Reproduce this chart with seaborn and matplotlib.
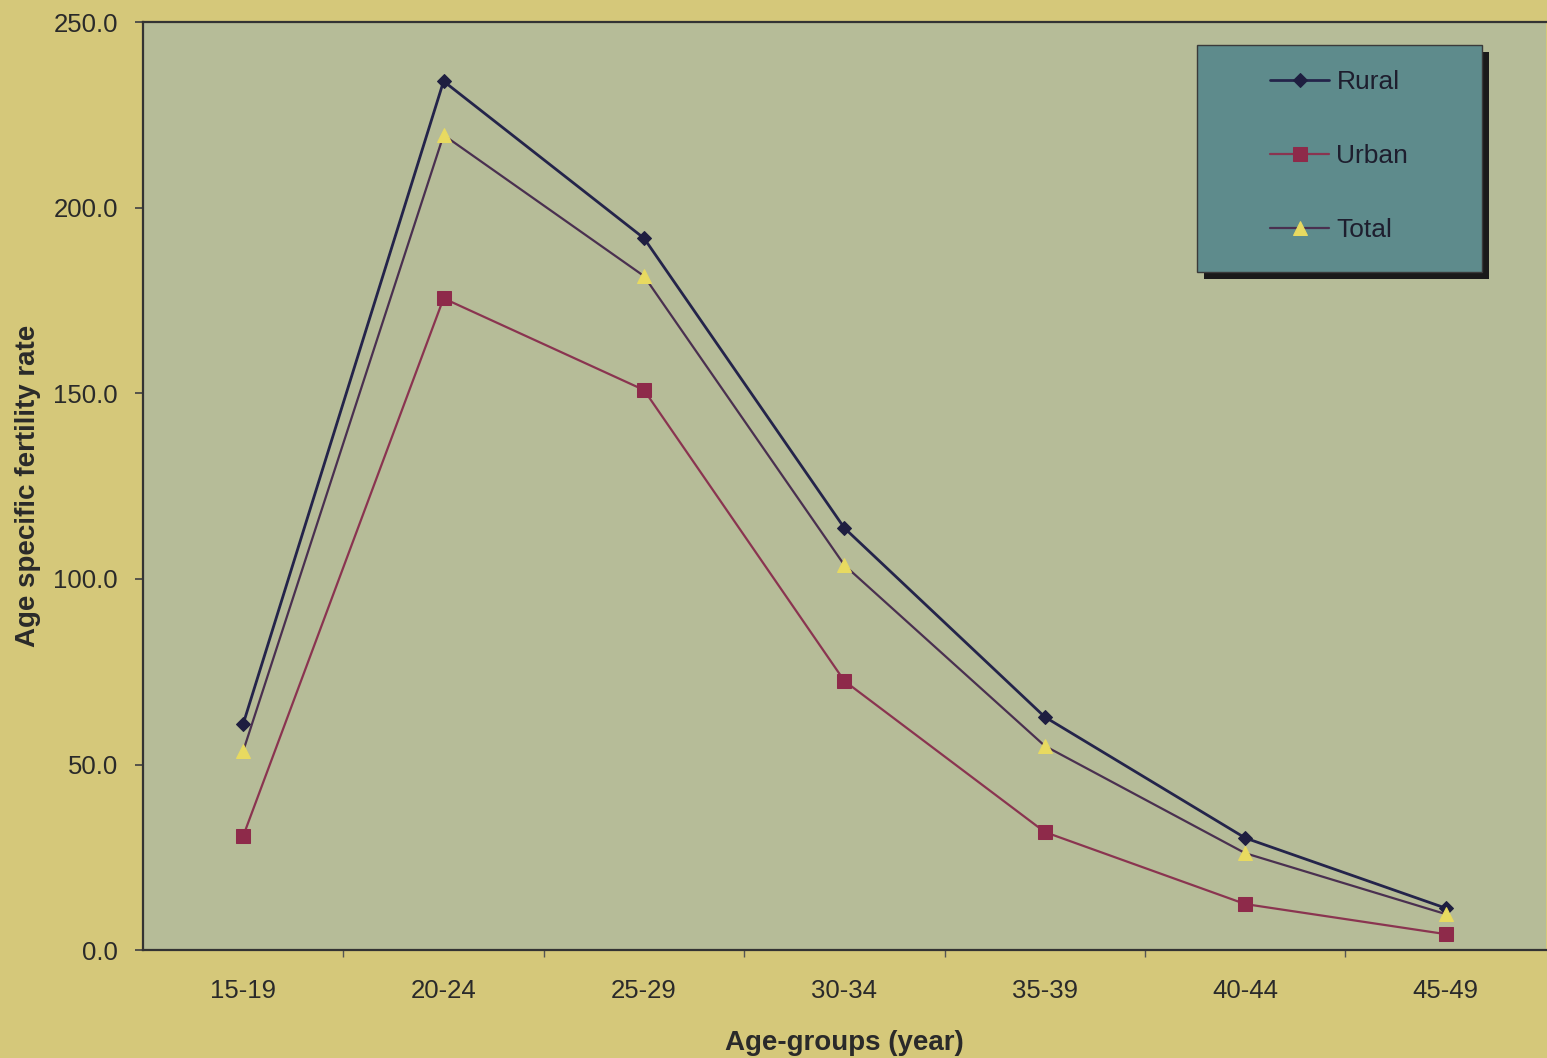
import matplotlib
matplotlib.use("Agg")
import matplotlib.pyplot as plt
from matplotlib.patches import Rectangle
import seaborn as sns
import pandas as pd
import numpy as np

age_groups = ["15-19", "20-24", "25-29", "30-34", "35-39", "40-44", "45-49"]
rural = [60.9, 234.1, 191.8, 113.7, 62.8, 30.2, 11.3]
urban = [30.7, 175.6, 150.9, 72.5, 31.8, 12.4, 4.3]
total = [53.6, 219.6, 181.6, 103.7, 55.0, 26.1, 9.7]
y_ticks = [0, 50, 100, 150, 200, 250]

sns.set_theme(style="white")
plt.rcParams['font.family'] = ['Liberation Sans', 'DejaVu Sans']

fig = plt.figure(figsize=(15.47, 10.58), dpi=100)
fig.patch.set_facecolor("#D5C87A")
ax = fig.add_axes([0.0924, 0.102, 0.9069, 0.877])
ax.set_facecolor("#B6BC98")

series = [
    ("Rural", rural, "#24244A", "D", "#1E1E40", "#1E1E40", 7, 2.0),
    ("Urban", urban, "#8A3450", "s", "#8E2A4A", "#8E2A4A", 10, 1.6),
    ("Total", total, "#4A3050", "^", "#E8DA60", "#E8DA60", 10, 1.6),
]
for name, vals, lc, mk, mfc, mec, ms, lw in series:
    df = pd.DataFrame({"age": age_groups, "value": vals})
    sns.lineplot(data=df, x="age", y="value", ax=ax, sort=False,
                 color=lc, linewidth=lw, marker=mk, markersize=ms,
                 markerfacecolor=mfc, markeredgecolor=mec, label=name)

ax.set_xlim(-0.5, 6.5)
ax.set_ylim(0, 250)
ax.set_yticks(y_ticks)
ax.set_yticklabels([f"{v:.1f}" for v in y_ticks])
ax.set_xticks(range(len(age_groups)))
ax.set_xticklabels(age_groups)
ax.set_xticks(np.arange(0.5, 6.5, 1.0), minor=True)
ax.tick_params(axis="x", which="major", length=0, pad=21, labelsize=18.5, colors="#2a2a2a")
ax.tick_params(axis="x", which="minor", length=5, direction="out", color="#555555", bottom=True)
ax.tick_params(axis="y", which="major", length=6, direction="out", color="#444444",
               left=True, labelsize=18.5, labelcolor="#2a2a2a", pad=12)

for s in ax.spines.values():
    s.set_color("#333333")
    s.set_linewidth(1.6)
ax.spines["right"].set_visible(False)

ax.set_xlabel("Age-groups (year)", fontsize=20, fontweight="bold", color="#2a2a2a", labelpad=19)
ax.set_ylabel("Age specific fertility rate", fontsize=20, fontweight="bold", color="#2a2a2a", labelpad=9)

# legend box background with shadow
x0, x1, y0, y1 = 0.7512, 0.9544, 0.7306, 0.9752
shadow = Rectangle((x0 + 0.005, y0 - 0.007), x1 - x0, y1 - y0, transform=ax.transAxes,
                   facecolor="#1a1a1a", edgecolor="none", zorder=5)
box = Rectangle((x0, y0), x1 - x0, y1 - y0, transform=ax.transAxes,
                facecolor="#5E8B8C", edgecolor="#3a3a3a", linewidth=1.0, zorder=6)
ax.add_patch(shadow)
ax.add_patch(box)

leg = ax.legend(loc="center", bbox_to_anchor=((x0 + x1) / 2, (y0 + y1) / 2 + 0.003), frameon=False,
                fontsize=19, handlelength=2.2, labelspacing=1.9,
                handletextpad=0.3, borderaxespad=0)
leg.set_zorder(7)
for t in leg.get_texts():
    t.set_color("#1E1E2E")

fig.savefig("out.png", dpi=100, facecolor=fig.get_facecolor())
